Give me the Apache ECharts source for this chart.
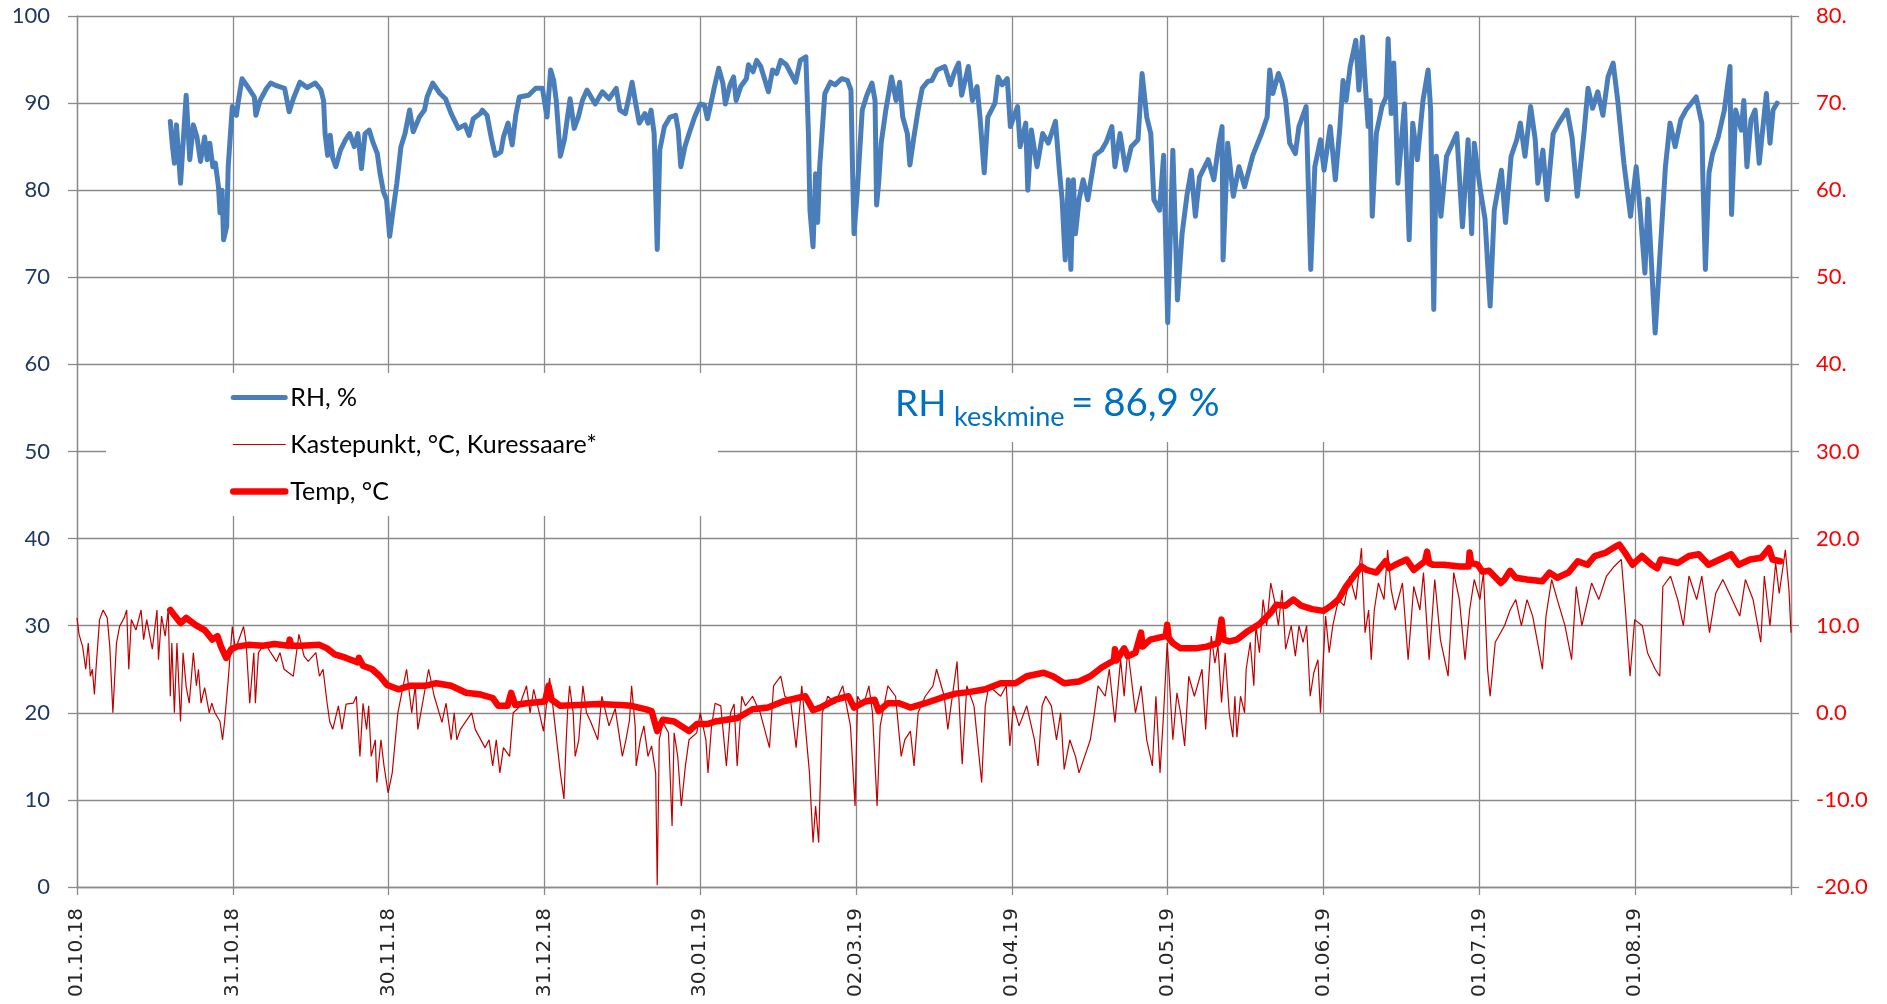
<!DOCTYPE html>
<html><head><meta charset="utf-8">
<script src="https://cdn.jsdelivr.net/npm/echarts@6/dist/echarts.min.js"></script>
<style>html,body{margin:0;padding:0;background:#fff}#c{width:1887px;height:1004px}</style>
</head><body><div id="c"></div>
<script>
// x = days since 01.10.2018
const xLabels = ['01.10.18','31.10.18','30.11.18','31.12.18','30.01.19','02.03.19','01.04.19','01.05.19','01.06.19','01.07.19','01.08.19'];
const tickStepDays = 30.4;
const xMaxDays = 334.4;
const seriesNames = ['RH, %','Kastepunkt, °C, Kuressaare*','Temp, °C'];
const annotation = { main: 'RH', sub: 'keskmine', tail: '= 86,9 %' };

// RH, % (left axis)
const rhData = [[18.2,87.9],[18.6,85.2],[19.0,83.1],[19.4,87.5],[20.2,80.8],[21.3,90.9],[22.0,83.5],[22.7,87.5],[23.4,86.1],[24.1,83.3],[24.9,86.1],[25.4,83.5],[25.9,85.4],[26.5,82.7],[27.0,83.1],[27.6,80.4],[27.9,77.4],[28.3,80.0],[28.6,74.3],[29.2,75.8],[29.5,82.7],[30.3,89.6],[31.1,88.6],[31.5,90.3],[32.2,92.8],[33.5,91.7],[34.6,90.7],[34.9,88.6],[35.7,90.3],[37.0,91.7],[37.8,92.3],[38.9,92.0],[40.5,91.7],[41.4,89.0],[42.2,90.5],[43.5,92.4],[44.9,91.8],[46.5,92.3],[47.6,91.5],[48.1,90.3],[48.4,86.5],[48.9,84.0],[49.4,86.3],[49.9,83.7],[50.5,82.7],[51.4,84.6],[52.4,85.8],[53.2,86.5],[54.1,85.0],[54.8,86.5],[55.5,82.5],[56.2,86.5],[57.0,86.9],[57.8,85.4],[58.6,84.2],[59.1,82.0],[59.8,79.8],[60.4,78.9],[61.0,74.7],[61.6,77.4],[62.4,80.8],[63.2,85.0],[64.0,86.5],[64.9,89.2],[65.6,86.7],[66.8,88.4],[67.8,89.2],[68.3,90.7],[69.4,92.3],[70.8,91.1],[71.9,90.5],[73.0,88.8],[74.4,87.1],[75.7,87.5],[76.5,86.3],[77.3,88.2],[78.7,88.8],[79.1,89.2],[80.0,88.6],[80.9,85.8],[81.6,84.0],[82.7,84.4],[83.2,86.1],[84.1,87.7],[84.9,85.2],[85.6,88.6],[86.3,90.7],[88.1,90.9],[89.5,91.7],[90.8,91.7],[91.7,88.4],[92.4,93.8],[93.0,92.6],[93.5,90.3],[94.3,83.9],[95.1,85.8],[95.7,88.4],[96.2,90.5],[97.0,87.1],[97.8,88.4],[98.6,90.3],[99.5,91.5],[101.1,89.9],[102.5,91.3],[103.8,90.5],[105.2,91.7],[105.9,89.2],[107.0,88.8],[108.3,92.4],[108.9,90.3],[109.7,87.7],[110.8,88.8],[111.4,87.7],[112.0,89.2],[112.6,86.5],[113.2,73.2],[113.7,84.6],[114.6,87.3],[115.7,88.4],[116.8,88.6],[117.3,86.9],[117.8,82.7],[118.6,85.0],[119.3,86.3],[120.5,88.4],[121.6,89.9],[122.4,89.8],[123.0,88.2],[123.8,90.3],[124.3,91.7],[125.2,94.0],[126.0,92.3],[126.5,89.9],[127.4,92.1],[128.1,93.0],[128.6,90.3],[129.5,91.9],[130.6,92.8],[131.0,94.4],[131.9,93.6],[132.6,94.9],[133.4,94.2],[134.9,91.3],[135.7,93.8],[136.5,93.4],[137.3,94.9],[138.4,94.4],[139.1,93.6],[140.2,92.4],[141.1,94.9],[142.2,95.3],[142.7,86.5],[143.0,77.7],[143.6,73.5],[144.1,81.9],[144.5,76.3],[144.9,82.7],[145.9,91.1],[147.0,92.4],[147.9,92.1],[149.2,92.8],[150.3,92.6],[151.0,91.5],[151.3,82.7],[151.6,75.0],[152.2,79.6],[153.2,89.2],[154.1,90.9],[155.1,92.3],[155.7,90.3],[156.0,78.3],[156.4,80.8],[156.9,85.4],[157.8,89.2],[158.9,93.0],[159.8,90.3],[160.5,92.4],[161.1,88.4],[162.0,86.5],[162.5,82.9],[163.2,85.8],[164.1,89.2],[164.9,91.7],[166.0,92.5],[166.8,92.6],[167.8,93.8],[169.3,94.2],[170.4,92.1],[171.1,93.4],[172.0,94.6],[172.6,90.9],[173.9,94.2],[174.7,90.3],[175.6,91.9],[176.2,88.2],[177.0,82.0],[177.7,88.4],[179.1,90.0],[179.7,93.0],[180.5,92.1],[181.5,92.8],[182.1,87.3],[183.5,89.6],[184.0,85.0],[185.1,87.7],[185.5,80.0],[186.2,86.9],[187.3,82.7],[188.4,86.5],[189.5,85.4],[190.9,87.9],[191.7,82.0],[192.2,78.9],[192.8,72.0],[193.4,81.2],[193.9,70.9],[194.4,81.2],[194.8,75.0],[195.5,78.9],[196.3,81.2],[197.2,78.9],[198.6,84.0],[199.9,84.6],[200.8,85.5],[201.9,87.3],[202.5,82.7],[203.5,86.5],[204.6,82.3],[205.7,85.0],[207.0,85.8],[207.8,93.4],[208.7,88.4],[209.5,86.5],[210.1,78.9],[211.2,77.7],[212.0,84.0],[212.8,64.8],[213.8,84.6],[214.7,67.4],[215.6,75.0],[216.6,79.6],[217.4,82.3],[218.2,77.0],[219.0,81.5],[220.7,83.5],[221.8,81.2],[222.8,85.4],[223.4,87.3],[223.6,72.0],[224.5,85.4],[225.6,79.3],[226.7,82.7],[227.8,80.4],[229.4,84.0],[231.1,86.5],[232.2,88.4],[232.7,93.8],[233.3,91.1],[234.4,93.4],[235.1,92.3],[235.8,90.3],[236.6,85.4],[237.7,84.2],[238.4,87.3],[239.8,89.6],[240.7,70.9],[241.5,82.7],[242.6,85.8],[243.3,82.3],[244.5,87.3],[245.5,81.2],[246.4,87.3],[247.0,92.6],[247.6,90.3],[248.4,94.2],[249.5,97.2],[250.1,91.5],[250.8,97.6],[251.3,92.6],[251.9,87.3],[252.3,90.3],[252.7,77.0],[253.5,86.5],[254.6,89.6],[255.4,90.7],[255.8,97.4],[256.4,88.8],[256.9,94.6],[257.3,88.4],[257.7,80.8],[259.0,89.9],[259.9,74.3],[260.6,87.7],[261.5,83.5],[262.6,90.3],[263.6,93.8],[264.1,89.2],[264.7,66.3],[265.2,83.9],[266.1,77.0],[267.2,83.9],[269.2,86.5],[270.3,75.8],[271.4,85.8],[272.1,75.0],[272.6,85.4],[273.8,80.0],[274.7,76.7],[275.7,66.7],[276.5,77.7],[277.9,82.3],[278.7,76.3],[279.8,83.9],[280.9,85.8],[281.6,87.7],[282.5,83.9],[283.6,89.6],[284.5,85.8],[285.0,80.8],[286.0,84.6],[286.8,78.9],[288.0,86.5],[289.1,87.7],[290.7,89.2],[291.7,86.0],[292.7,79.3],[294.0,86.5],[294.8,91.7],[295.7,89.4],[296.7,91.3],[297.7,88.6],[298.7,93.0],[299.7,94.6],[300.6,90.3],[301.8,83.1],[303.1,77.0],[304.2,82.7],[305.0,77.4],[305.9,70.5],[306.5,79.0],[307.9,63.6],[309.3,77.0],[309.9,82.7],[310.8,87.7],[311.8,85.0],[312.9,88.1],[313.9,89.2],[315.9,90.7],[317.0,87.7],[317.2,81.6],[317.7,70.9],[318.4,82.0],[319.1,84.2],[320.2,86.1],[321.4,89.2],[322.5,94.2],[322.8,77.2],[323.6,89.2],[324.7,86.9],[325.2,90.3],[325.8,82.7],[326.6,88.1],[327.4,89.2],[328.2,83.1],[329.6,91.1],[330.3,85.4],[330.9,89.2],[331.7,90.0]];

// Kastepunkt, °C (right axis)
const dewData = [[0,10.9],[0.4,9.0],[1.1,7.6],[1.7,5.0],[2.2,8.0],[2.6,4.2],[3.0,5.0],[3.4,2.1],[3.7,5.0],[4.4,10.7],[5.1,11.8],[5.9,10.9],[6.4,7.6],[7.0,0],[7.7,8.0],[8.3,9.9],[9.2,10.9],[9.7,11.8],[10.1,5.0],[10.6,10.7],[11.5,9.5],[12.5,11.8],[13.0,8.4],[13.6,10.7],[14.7,7.3],[15.6,11.8],[15.9,6.1],[16.5,11.1],[17.2,8.8],[17.8,11.8],[18.2,1.9],[18.5,8.0],[19.0,0],[19.5,8.0],[20.2,-1.0],[20.7,6.9],[21.3,3.0],[21.9,1.1],[22.7,6.9],[23.3,3.1],[23.7,5.0],[24.2,1.1],[24.9,2.9],[25.8,0],[26.3,1.1],[26.9,0],[27.9,-1.0],[28.4,-3.1],[28.8,-1.0],[29.5,3.8],[30.3,9.9],[30.9,7.3],[32.5,9.9],[33.0,8.0],[33.7,1.1],[34.5,6.9],[34.8,1.1],[35.4,6.9],[36.7,8.0],[37.8,6.9],[38.9,5.9],[39.6,6.9],[40.4,5.0],[42.2,4.2],[43.3,9.0],[44.3,6.5],[45.1,5.9],[46.6,6.9],[47.3,4.2],[48.0,5.0],[48.8,1.1],[49.3,-1.0],[49.9,-1.9],[51.0,0.8],[51.7,-1.9],[52.5,1.0],[53.9,1.1],[54.5,1.9],[55.2,-5.0],[55.8,1.1],[56.5,-1.9],[56.9,0.8],[57.4,-5.0],[58.2,-3.1],[58.5,-8.0],[59.3,-3.1],[59.9,-6.1],[60.7,-9.2],[61.5,-6.9],[62.6,0],[63.5,2.7],[64.3,5.0],[65.3,0],[66.0,3.1],[66.5,-1.9],[68.6,5.0],[69.7,1.9],[71.2,-1.1],[72.0,1.1],[73.0,-3.1],[73.6,0],[74.1,-3.1],[74.8,-1.9],[77.0,0],[77.7,-1.9],[79.6,-4.0],[80.4,-3.1],[81.1,-6.1],[81.8,-3.1],[82.5,-6.9],[83.2,-4.0],[84.4,-5.0],[85.1,0],[86.2,0.6],[87.7,3.1],[88.4,0],[89.1,2.7],[90.2,0],[91.0,-2.1],[92.2,4.0],[92.8,1.0],[94.3,-6.9],[95.0,-9.9],[95.4,-3.8],[95.7,0],[96.1,3.1],[96.8,0],[97.2,-5.0],[97.9,-3.1],[98.7,3.1],[99.4,0],[100.2,-1.0],[101.6,-3.1],[102.4,1.9],[103.8,-1.5],[105.0,0.5],[106.4,-5.0],[107.1,-3.1],[107.8,-0.8],[108.2,3.1],[108.9,-1.5],[109.1,-6.1],[109.9,-3.1],[110.6,-1.5],[111.4,-5.0],[112.1,-3.8],[112.9,-6.9],[113.2,-19.8],[113.6,-3.1],[114.3,-1.1],[115.4,-2.3],[116.1,-13.0],[116.5,-2.3],[117.2,-5.0],[117.9,-10.7],[118.7,-6.1],[119.4,-3.1],[120.9,-2.3],[121.6,0],[122.7,-3.1],[123.1,-6.9],[123.8,-1.5],[124.5,1.1],[125.6,0.8],[126.7,-6.1],[127.5,0],[128.2,1.0],[128.8,-6.1],[129.7,1.9],[130.4,0.8],[131.8,1.9],[133.3,0],[135.1,-4.0],[135.9,3.1],[137.3,4.2],[138.1,1.9],[139.2,1.5],[140.3,-4.0],[141.4,3.1],[142.9,-6.9],[143.6,-14.9],[144.1,-10.7],[144.7,-14.9],[145.4,0],[146.5,1.9],[147.9,1.1],[149.4,3.1],[150.9,-1.5],[151.8,-10.7],[152.3,1.9],[153.4,0.8],[154.5,3.1],[155.2,0],[156.1,-10.7],[156.7,-1.5],[158.2,3.1],[159.7,1.9],[160.8,-5.0],[161.5,-3.1],[162.6,-2.1],[163.3,-6.1],[164.1,0],[165.5,1.9],[167.0,3.1],[167.7,5.0],[169.2,1.9],[169.9,-1.9],[171.7,5.9],[172.7,-5.9],[173.6,3.1],[175.0,0.8],[176.5,-8.0],[177.2,0.8],[177.9,3.1],[180.2,1.9],[181.3,3.1],[182.0,-3.8],[182.7,0.8],[183.8,-1.5],[185.3,0.8],[186.8,-3.1],[187.5,-6.1],[188.3,0.8],[189.0,1.9],[190.1,0.8],[191.1,-3.1],[191.9,0],[192.6,-6.5],[193.7,-3.1],[194.8,-5.0],[195.5,-6.9],[196.6,-5.0],[197.7,-3.1],[198.5,0],[199.2,3.1],[200.6,1.9],[201.4,5.0],[202.5,-1.1],[203.6,6.1],[204.3,1.9],[205.0,7.3],[206.5,0],[207.6,3.1],[208.7,-3.1],[209.8,-6.1],[210.5,1.9],[211.3,-6.9],[212.0,0],[212.7,8.0],[213.8,-3.1],[214.6,2.3],[215.3,0],[216.1,-3.8],[216.9,4.2],[218.0,1.9],[219.5,5.0],[220.2,-1.9],[221.3,8.8],[222.0,5.7],[222.6,7.7],[223.3,1.2],[224.0,6.9],[224.8,0],[225.5,-2.8],[225.9,1.9],[226.3,-2.8],[227.0,1.9],[227.8,0],[228.1,5.0],[228.9,8.1],[229.6,3.1],[230.0,10.0],[230.7,6.9],[231.4,13.0],[232.1,10.0],[232.9,14.9],[233.6,13.0],[234.4,10.0],[235.1,14.1],[235.8,7.3],[236.9,10.0],[237.7,6.5],[238.4,10.0],[239.2,8.1],[239.9,10.0],[240.6,1.9],[241.3,4.6],[242.1,6.1],[242.6,0],[243.6,11.1],[244.3,6.9],[245.0,10.0],[246.1,13.0],[247.2,12.3],[248.3,15.7],[249.5,13.0],[250.6,18.9],[251.3,9.2],[252.0,11.8],[252.5,6.1],[253.1,11.8],[253.9,14.9],[255.0,13.0],[255.7,18.7],[256.4,14.1],[257.2,11.8],[258.6,14.9],[259.7,6.1],[260.8,14.5],[262.0,11.8],[262.7,16.1],[263.8,6.1],[264.9,15.3],[266.0,8.4],[267.5,4.2],[268.6,16.1],[269.7,13.0],[270.8,6.1],[271.7,11.8],[272.6,15.3],[273.7,13.0],[274.4,16.1],[275.2,5.0],[275.7,1.9],[276.7,8.1],[278.5,10.0],[279.6,11.8],[280.7,13.0],[281.8,10.0],[282.9,13.0],[284.0,11.1],[285.2,7.3],[285.9,5.0],[286.6,11.1],[287.7,15.3],[288.8,13.0],[290.3,10.0],[291.6,6.1],[292.5,14.5],[293.6,10.0],[295.5,14.9],[296.9,13.0],[298.4,15.7],[299.9,16.8],[301.3,17.6],[302.1,11.8],[303.0,4.2],[303.9,10.7],[305.4,10.0],[306.4,6.9],[307.9,5.0],[308.8,4.2],[309.4,14.5],[310.9,15.7],[312.3,13.0],[313.4,10.0],[314.5,15.7],[316.0,13.0],[317.0,15.7],[318.5,9.2],[319.7,13.7],[321.1,15.3],[322.6,13.4],[324.4,11.1],[325.5,15.3],[327.0,13.0],[328.5,8.1],[329.2,15.7],[330.3,10.0],[331.4,17.2],[332.1,13.7],[333.3,18.7],[334.0,14.1],[334.4,9.2]];

// Temp, °C (right axis)
const tempData = [[18.2,11.8],[19.0,11.2],[20.2,10.3],[21.3,10.9],[23.1,10.1],[24.9,9.5],[26.4,8.4],[27.4,8.8],[28.1,7.6],[29.1,6.3],[30.1,7.3],[31.2,7.6],[33.4,7.8],[36.3,7.7],[38.5,7.9],[41.3,7.7],[41.5,8.4],[41.8,7.7],[43.7,7.7],[47.3,7.8],[48.8,7.4],[50.3,6.7],[52.5,6.3],[54.7,5.8],[55.0,6.3],[55.8,5.4],[57.6,5.0],[59.1,4.2],[60.5,3.2],[62.7,2.7],[64.9,3.1],[67.9,3.1],[70.1,3.4],[73.0,3.1],[75.9,2.3],[78.8,2.1],[81.1,1.7],[82.2,0.8],[84.0,0.8],[84.7,2.3],[85.5,0.9],[87.7,1.1],[91.3,1.3],[92.0,3.1],[92.6,1.5],[94.3,0.8],[97.9,0.9],[101.6,1.0],[106.0,0.9],[108.2,0.8],[111.0,0.4],[112.1,0.2],[113.2,-2.1],[114.3,-0.8],[116.5,-1.0],[119.4,-2.1],[120.9,-1.3],[123.0,-1.3],[124.5,-1.0],[126.7,-0.8],[128.9,-0.6],[131.8,0.4],[134.8,0.6],[137.7,1.3],[140.6,1.7],[142.1,1.9],[143.6,0.3],[145.0,0.6],[148.0,1.5],[150.5,1.9],[151.6,0.6],[153.8,1.3],[155.6,1.5],[156.4,0.2],[158.2,1.1],[160.4,1.1],[162.6,0.6],[165.5,1.1],[168.5,1.7],[171.4,2.2],[174.3,2.4],[177.2,2.7],[180.2,3.4],[183.1,3.4],[185.3,4.2],[188.6,4.6],[190.4,4.2],[192.6,3.4],[195.5,3.6],[197.7,4.2],[199.9,5.2],[202.3,6.0],[202.5,7.3],[202.8,6.0],[204.3,7.4],[205.0,6.5],[206.5,6.9],[207.6,9.2],[207.9,7.6],[209.4,8.4],[212.4,8.8],[212.7,10.1],[213.0,8.6],[213.8,8.0],[215.3,7.4],[218.2,7.4],[220.4,7.6],[222.6,8.0],[223.3,10.7],[223.7,8.4],[224.8,8.2],[226.3,8.4],[228.5,9.4],[230.7,10.2],[232.9,11.5],[234.0,12.4],[235.8,12.3],[237.3,13.0],[238.8,12.3],[241.0,11.9],[243.2,11.7],[244.7,12.3],[246.1,13.0],[247.6,14.5],[249.1,15.7],[250.6,16.8],[251.6,16.4],[253.5,16.1],[255.3,17.4],[256.0,16.6],[257.2,17.0],[259.4,17.6],[260.8,16.4],[263.0,17.4],[263.4,18.5],[263.8,17.2],[264.5,17.0],[266.7,17.0],[269.7,16.8],[271.5,16.8],[271.7,18.4],[272.0,17.2],[273.3,17.0],[274.2,16.2],[275.5,16.3],[277.8,14.9],[278.5,15.3],[279.6,16.3],[280.7,15.5],[282.9,15.3],[285.9,15.1],[287.3,16.1],[288.8,15.5],[291.0,16.1],[292.8,17.4],[294.7,17.0],[296.1,18.0],[298.3,18.4],[300.2,19.1],[300.9,19.3],[302.0,18.4],[303.5,17.0],[305.3,18.0],[307.2,17.0],[308.3,16.6],[309.0,17.6],[310.9,17.4],[312.3,17.2],[314.5,18.0],[316.4,18.2],[318.3,17.0],[320.5,17.6],[322.7,18.2],[324.2,17.0],[326.4,17.6],[328.6,17.8],[330.1,18.9],[330.8,17.6],[332.3,17.4]];

const gridColor = '#8a8a8a';
const chart = echarts.init(document.getElementById('c'), null, {renderer: 'canvas'});
chart.setOption({
  animation: false,
  backgroundColor: '#ffffff',
  grid: { left: 77, right: 96, top: 16, bottom: 117, containLabel: false },
  xAxis: {
    type: 'value', min: 0, max: xMaxDays, interval: tickStepDays,
    axisLine: { show: true, lineStyle: { color: gridColor, width: 1.3 } },
    axisTick: { show: true, length: 8, lineStyle: { color: gridColor, width: 1.3 } },
    splitLine: { show: true, lineStyle: { color: gridColor, width: 1.3 } },
    axisLabel: {
      rotate: 90, margin: 21, fontFamily: 'DejaVu Sans', fontSize: 20, color: '#262626',
      showMaxLabel: true,
      formatter: function (v) { const i = Math.round(v / tickStepDays); return i < xLabels.length ? xLabels[i] : ''; }
    }
  },
  yAxis: [
    {
      type: 'value', min: 0, max: 100, interval: 10, position: 'left',
      axisLine: { show: true, lineStyle: { color: gridColor, width: 1.3 } },
      axisTick: { show: true, length: 9, lineStyle: { color: gridColor, width: 1.3 } },
      splitLine: { show: true, lineStyle: { color: gridColor, width: 1.3 } },
      axisLabel: { margin: 27, fontFamily: 'Lato', fontSize: 22, color: '#1F3864' }
    },
    {
      type: 'value', min: -20, max: 80, interval: 10, position: 'right',
      axisLine: { show: true, lineStyle: { color: gridColor, width: 1.3 } },
      axisTick: { show: true, length: 8, lineStyle: { color: gridColor, width: 1.3 } },
      splitLine: { show: false },
      axisLabel: {
        margin: 25, fontFamily: 'Lato', fontSize: 22, color: '#FF0000',
        formatter: function (v) { return v >= 40 ? v + '.' : v.toFixed(1); }
      }
    }
  ],
  legend: {
    orient: 'vertical', left: 230, top: 385, z: 20, padding: 0,
    itemWidth: 52, itemHeight: 22, itemGap: 22, selectedMode: false,
    textStyle: { fontFamily: 'Lato', fontSize: 25, color: '#000' },
    itemStyle: { opacity: 0 },
    lineStyle: { width: 'inherit', cap: 'round' },
    data: seriesNames
  },
  graphic: [
    { type: 'rect', z: 15, shape: { x: 106, y: 373, width: 612, height: 143 }, style: { fill: '#ffffff' } },
    { type: 'rect', z: 15, shape: { x: 858, y: 373, width: 482, height: 69 }, style: { fill: '#ffffff' } },
    { type: 'text', z: 20, x: 895, y: 404, style: { text: annotation.main, font: '37px Lato', fill: '#0070C0', verticalAlign: 'middle' } },
    { type: 'text', z: 20, x: 954, y: 417, style: { text: annotation.sub, font: '27px Lato', fill: '#0070C0', verticalAlign: 'middle' } },
    { type: 'text', z: 20, x: 1071, y: 404, style: { text: annotation.tail, font: '38.5px Lato', fill: '#0070C0', verticalAlign: 'middle' } }
  ],
  series: [
    { name: seriesNames[0], type: 'line', yAxisIndex: 0, data: rhData, symbol: 'none', z: 3,
      lineStyle: { color: '#4A7EBB', width: 5, cap: 'round', join: 'round' }, itemStyle: { color: '#4A7EBB' } },
    { name: seriesNames[1], type: 'line', yAxisIndex: 1, data: dewData, symbol: 'none', z: 4,
      lineStyle: { color: '#C00000', width: 1.2 }, itemStyle: { color: '#C00000' } },
    { name: seriesNames[2], type: 'line', yAxisIndex: 1, data: tempData, symbol: 'none', z: 5,
      lineStyle: { color: '#FF0000', width: 6.5, cap: 'round', join: 'round' }, itemStyle: { color: '#FF0000' } }
  ]
});
</script></body></html>
